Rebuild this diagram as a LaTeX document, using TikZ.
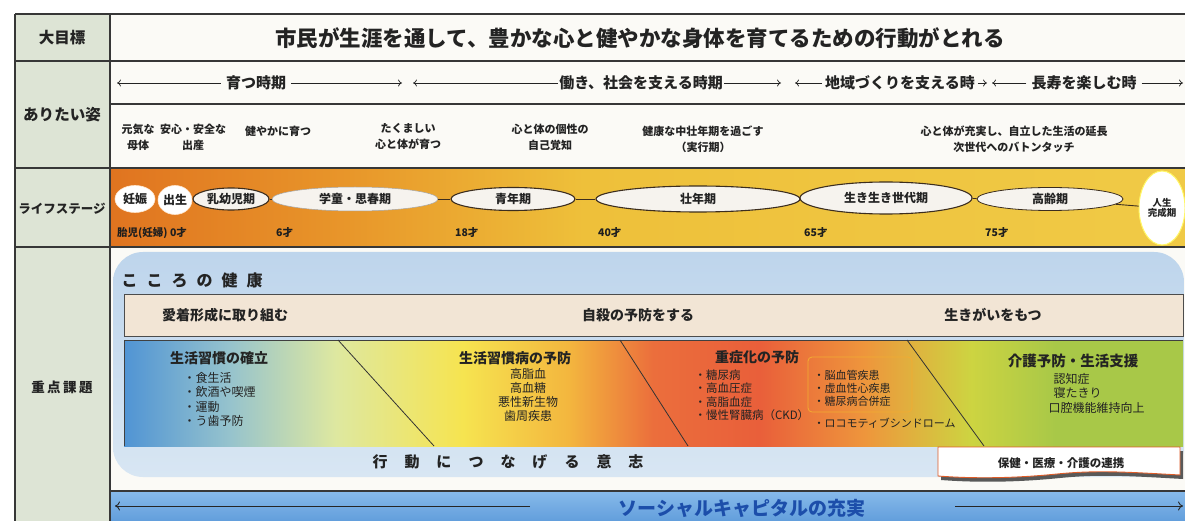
\documentclass[tikz,border=0pt]{standalone}
\usepackage{fontspec}
\setmainfont{Noto Sans CJK JP}
\usetikzlibrary{shapes.geometric,arrows.meta}
\definecolor{colL}{RGB}{221,228,213}
\definecolor{rowbg}{RGB}{251,250,246}
\definecolor{tline}{RGB}{55,55,55}
\definecolor{lsA}{RGB}{224,116,32}
\definecolor{lsB}{RGB}{232,150,42}
\definecolor{lsC}{RGB}{238,192,58}
\definecolor{lsD}{RGB}{240,202,70}
\definecolor{ellfill}{RGB}{246,243,238}
\definecolor{panelA}{RGB}{190,213,236}
\definecolor{panelB}{RGB}{216,230,243}
\definecolor{beige}{RGB}{242,229,213}
\definecolor{gA}{RGB}{80,148,212}
\definecolor{gB}{RGB}{150,195,205}
\definecolor{gC}{RGB}{222,232,160}
\definecolor{gD}{RGB}{246,228,80}
\definecolor{gE}{RGB}{243,182,62}
\definecolor{gF}{RGB}{235,110,60}
\definecolor{gG}{RGB}{233,95,58}
\definecolor{gH}{RGB}{238,150,60}
\definecolor{gI}{RGB}{205,212,65}
\definecolor{gJ}{RGB}{168,200,72}
\definecolor{scA}{RGB}{135,186,234}
\definecolor{scB}{RGB}{98,158,220}
\definecolor{scText}{RGB}{28,78,170}
\definecolor{hokenLine}{RGB}{222,92,40}
\definecolor{boxOr}{RGB}{242,172,50}
\definecolor{txt}{RGB}{35,35,35}
\definecolor{ellLine}{RGB}{60,45,30}
\pgfdeclarehorizontalshading{lifeshade}{100bp}{color(0bp)=(lsA); color(25bp)=(lsA); color(36bp)=(lsB); color(47bp)=(lsC); color(75bp)=(lsD); color(100bp)=(lsD)}
\pgfdeclarehorizontalshading{issueshade}{100bp}{color(0bp)=(gA); color(25bp)=(gA); color(30bp)=(gB); color(35bp)=(gC); color(41bp)=(gD); color(46bp)=(gE); color(50bp)=(gF); color(55bp)=(gG); color(60bp)=(gH); color(65bp)=(gI); color(69bp)=(gJ); color(75bp)=(gJ); color(100bp)=(gJ)}
\begin{document}
\begin{tikzpicture}[x=1pt,y=-1pt,
  tbl/.style={draw=tline,line width=1.1pt},
  hdr/.style={font=\fontsize{15.5}{18}\selectfont\bfseries,text=txt},
  period/.style={font=\fontsize{15}{17}\selectfont\bfseries,text=txt,inner sep=5pt},
  parr/.style={draw=txt,line width=0.7pt,-{To[length=4pt,width=7pt]}},
  wish/.style={font=\fontsize{11}{16}\selectfont\bfseries,text=txt,align=center},
  stage/.style={ellipse,fill=ellfill,inner sep=0pt,font=\fontsize{12}{14}\selectfont\bfseries,text=txt},
  darkedge/.style={draw=ellLine,line width=1.1pt},
  conn/.style={draw=ellLine,line width=0.9pt},
  age/.style={anchor=west,font=\fontsize{10.5}{12}\selectfont\bfseries,text=txt!85!black,inner sep=0pt},
  mind/.style={font=\fontsize{14}{16}\selectfont\bfseries,text=txt},
  ihead/.style={font=\fontsize{14}{16}\selectfont\bfseries,text=txt},
  items/.style={font=\fontsize{12}{14.2}\selectfont,text=txt,align=left},
  itemsc/.style={font=\fontsize{12}{14}\selectfont,text=txt,align=center},
  diag/.style={draw=black!80,line width=0.8pt},
  scarr/.style={draw=black!85,line width=0.9pt,-{To[length=5pt,width=9pt]}}]
\useasboundingbox (0,0) rectangle (1185,521);
\fill[white] (0,0) rectangle (1185,521);
% backgrounds
\fill[colL] (15,14) rectangle (110,521);
\fill[rowbg] (110,14) rectangle (1185,168);
\fill[rowbg] (110,247) rectangle (1185,491);
\shade[shading=lifeshade] (110,168) rectangle (1185,247);
\shade[top color=scA,bottom color=scB] (110,491) rectangle (1185,521);
% table lines
\draw[tbl] (15,14) -- (1185,14);
\draw[tbl] (15,61) -- (1185,61);
\draw[tbl] (110,104) -- (1185,104);
\draw[tbl] (15,168) -- (1185,168);
\draw[tbl] (15,247) -- (1185,247);
\draw[tbl] (110,491) -- (1185,491);
\draw[tbl] (15,14) -- (15,521);
\draw[tbl] (110,14) -- (110,521);
% left headers
\node[hdr] (h1) at (62,38) {大目標};
\node[hdr] (h2) at (62,115) {ありたい姿};
\node[hdr,font=\fontsize{12.5}{15}\selectfont\bfseries] (h3) at (62,209) {ライフステージ};
\node[hdr,font=\fontsize{13.5}{15}\selectfont\bfseries] (h4) at (62,387) {重\hspace{2.5pt}点\hspace{2.5pt}課\hspace{2.5pt}題};
% goal
\node[font=\fontsize{21.5}{26}\selectfont\bfseries,text=txt] (goal) at (640,38) {市民が生涯を通して、豊かな心と健やかな身体を育てるための行動がとれる};
% periods
\node[period] (p1) at (256,83) {育つ時期};
\coordinate (p1l) at (117,83); \coordinate (p1r) at (402,83);
\draw[parr] (p1.west) -- (p1l);
\draw[parr] (p1.east) -- (p1r);
\node[period,inner sep=1pt] (p2) at (641,83) {働き、社会を支える時期};
\coordinate (p2l) at (413,83); \coordinate (p2r) at (781,83);
\draw[parr] (p2.west) -- (p2l);
\draw[parr] (p2.east) -- (p2r);
\node[period,inner sep=3pt] (p3) at (900,83) {地域づくりを支える時};
\coordinate (p3l) at (795,83); \coordinate (p3r) at (987,83);
\draw[parr] (p3.west) -- (p3l);
\draw[parr] (p3.east) -- (p3r);
\node[period] (p4) at (1084,83) {長寿を楽しむ時};
\coordinate (p4l) at (992,83); \coordinate (p4r) at (1183,83);
\draw[parr] (p4.west) -- (p4l);
\draw[parr] (p4.east) -- (p4r);
% wishes
\node[wish] (w1) at (138,137) {元気な\\母体};
\node[wish] (w2) at (193,137) {安心・安全な\\出産};
\node[wish] (w3) at (278,131) {健やかに育つ};
\node[wish] (w4) at (408,136) {たくましい\\心と体が育つ};
\node[wish] (w5) at (550,137) {心と体の個性の\\自己覚知};
\node[wish] (w6) at (703,139) {健康な中壮年期を過ごす\\（実行期）};
\node[wish] (w7) at (1014,139) {心と体が充実し、自立した生活の延長\\次世代へのバトンタッチ};
% life stages
\node[stage,fill=white,draw=white!80!orange,line width=0.6pt,minimum width=40pt,minimum height=27pt] (s1) at (135,199) {妊娠};
\node[stage,fill=white,draw=white!80!orange,line width=0.6pt,minimum width=34pt,minimum height=29pt] (s2) at (175,200) {出生};
\node[stage,darkedge,minimum width=76pt,minimum height=22pt] (s3) at (231,199) {乳幼児期};
\node[stage,draw=black!35,line width=0.5pt,minimum width=166pt,minimum height=24pt] (s4) at (355,199) {学童・思春期};
\node[stage,darkedge,minimum width=124pt,minimum height=23pt] (s5) at (513,199) {青年期};
\node[stage,darkedge,minimum width=204pt,minimum height=26pt] (s6) at (698,199) {壮年期};
\node[stage,darkedge,minimum width=172pt,minimum height=32pt] (s7) at (886,198) {生き生き世代期};
\node[stage,darkedge,line width=0.8pt,minimum width=146pt,minimum height=23pt] (s8) at (1050,199) {高齢期};
\node[stage,fill=white,draw=yellow!60!white,line width=1pt,minimum width=46pt,minimum height=74pt,font=\fontsize{9.5}{10.5}\selectfont\bfseries,align=center] (s9) at (1162,208) {人生\\完成期};
\draw[conn] (s3) -- (s4);
\draw[conn] (s4) -- (s5);
\draw[conn] (s5) -- (s6);
\draw[conn] (s6) -- (s7);
\draw[conn] (s7) -- (s8);
\draw[conn] (s8) -- (s9);
\node[age] (a0) at (117,233) {胎児(妊婦) 0才};
\node[age] (a6) at (276,233) {6才};
\node[age] (a18) at (455,233) {18才};
\node[age] (a40) at (598,233) {40才};
\node[age] (a65) at (804,233) {65才};
\node[age] (a75) at (985,233) {75才};
% panel
\shade[top color=panelA,bottom color=panelB,rounded corners=30pt] (113,252) rectangle (1184,477);
\node[font=\fontsize{16}{18}\selectfont\bfseries,text=txt,anchor=west] (kokoro) at (118,280) {こ\hspace{9pt}こ\hspace{9pt}ろ\hspace{9pt}の\hspace{9pt}健\hspace{9pt}康};
\draw[fill=beige,draw=black!70,line width=1pt] (124,294) rectangle (1183,336);
\node[mind] (m1) at (225,315) {愛着形成に取り組む};
\node[mind] (m2) at (638,315) {自殺の予防をする};
\node[mind] (m3) at (993,315) {生きがいをもつ};
% issues
\shade[shading=issueshade] (124,340) rectangle (1183,446);
\draw[draw=black!75,line width=1pt] (124,446) -- (124,340) -- (1183,340);
\coordinate (d1t) at (338,340); \coordinate (d1b) at (434,446);
\coordinate (d2t) at (620,340); \coordinate (d2b) at (688,446);
\coordinate (d3t) at (907,340); \coordinate (d3b) at (984,446);
\draw[diag] (d1t) -- (d1b);
\draw[diag] (d2t) -- (d2b);
\draw[diag] (d3t) -- (d3b);
\node[ihead] (i1) at (219,358) {生活習慣の確立};
\node[items,anchor=north west] (i1l) at (180,369) {・食生活\\・飲酒や喫煙\\・運動\\・う歯予防};
\node[ihead] (i2) at (515,358) {生活習慣病の予防};
\node[itemsc,anchor=north] (i2l) at (528,365) {高脂血\\高血糖\\悪性新生物\\歯周疾患};
\node[ihead] (i3) at (757,357) {重症化の予防};
\node[items,font=\fontsize{11.5}{13.5}\selectfont,anchor=north west] (i3l) at (691,366) {・糖尿病\\・高血圧症\\・高脂血症\\・慢性腎臓病（CKD）};
\draw[draw=boxOr,line width=0.8pt,rounded corners=4pt] (808,357) rectangle (912,412);
\node[items,font=\fontsize{11}{13}\selectfont,anchor=north west] (i3b) at (810,367) {・脳血管疾患\\・虚血性心疾患\\・糖尿病合併症};
\node[items,font=\fontsize{11}{13}\selectfont,anchor=west] (i3c) at (810,423) {・ロコモティブシンドローム};
\node[ihead,font=\fontsize{14.5}{16}\selectfont\bfseries] (i4) at (1073,361) {介護予防・生活支援};
\node[items,anchor=north west] (i4l) at (1045,370) {\hspace{5pt}認知症\\\hspace{5pt}寝たきり\\口腔機能維持向上};
% will
\node[font=\fontsize{15}{17}\selectfont\bfseries,text=txt] (will) at (508,462) {行\hspace{17pt}動\hspace{17pt}に\hspace{17pt}つ\hspace{17pt}な\hspace{17pt}げ\hspace{17pt}る\hspace{17pt}意\hspace{17pt}志};
% hoken box
\fill[black!65] (941,451) -- (1183,451) -- (1183,479) .. controls (1130,476) and (1100,474) .. (1060,478) .. controls (1020,482) and (980,483) .. (941,480) -- cycle;
\draw[fill=white,draw=hokenLine,line width=0.9pt] (938,447) -- (1180,447) -- (1180,475) .. controls (1127,472) and (1097,470) .. (1057,474) .. controls (1017,478) and (977,479) .. (938,476) -- cycle;
\node[font=\fontsize{11.5}{13}\selectfont\bfseries,text=txt] (hoken) at (1061,463) {保健・医療・介護の連携};
% social capital
\node[font=\fontsize{19}{22}\selectfont\bfseries,text=scText] (sc) at (742,508) {ソーシャルキャピタルの充実};
\coordinate (scl0) at (530,506); \coordinate (scl1) at (115,506);
\coordinate (scr0) at (955,506); \coordinate (scr1) at (1183,506);
\draw[scarr] (scl0) -- (scl1);
\draw[scarr] (scr0) -- (scr1);
\end{tikzpicture}
\end{document}
